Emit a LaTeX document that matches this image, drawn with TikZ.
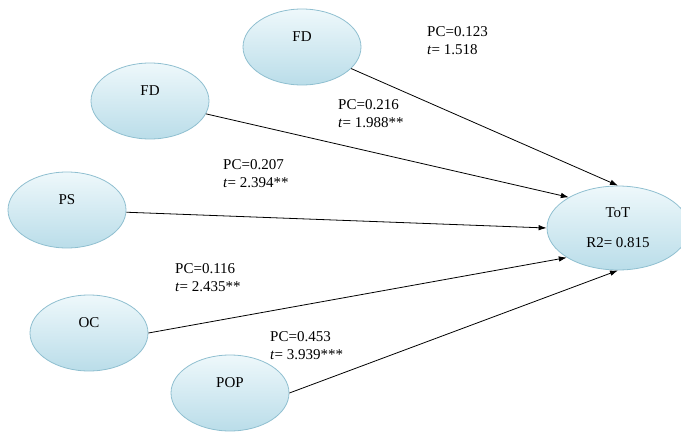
\documentclass[tikz,border=0pt]{standalone}
\usepackage{fontspec}
\setmainfont{Liberation Serif}
\usetikzlibrary{positioning,arrows.meta,shapes.geometric}
\definecolor{ovaltop}{HTML}{EEF8FB}
\definecolor{ovalbot}{HTML}{BADDE9}
\definecolor{ovalline}{HTML}{8FBFD0}
\tikzset{
  patharrow/.style={-{Latex[length=8pt,width=5.5pt]}, line width=0.8pt},
  construct/.style={ellipse, draw=ovalline, line width=0.8pt, top color=ovaltop, bottom color=ovalbot, minimum width=118pt, minimum height=76pt, inner sep=0pt, text height=10pt, text depth=22pt},
  outcome/.style={ellipse, draw=ovalline, line width=0.8pt, top color=ovaltop, bottom color=ovalbot, minimum width=142pt, minimum height=84pt, inner sep=0pt, align=center},
  coeflabel/.style={anchor=west, align=left, inner sep=0pt, font=\fontsize{15}{18}\selectfont}
}

\begin{document}
\begin{tikzpicture}[x=1pt, y=-1pt, >=Latex, every node/.style={font=\fontsize{15}{18}\selectfont}]
  \useasboundingbox (0,0) rectangle (681,434);
  \node[construct] (fdtop) at (302,47) {FD};
  \node[construct] (fdmid) at (150,101) {FD};
  \node[construct] (ps) at (67,210) {PS};
  \node[construct] (oc) at (89,333) {OC};
  \node[construct] (pop) at (230,393) {POP};
  \node[outcome] (tot) at (618,228) {ToT\\[12pt]R2= 0.815};
  \draw[patharrow] (fdtop) -- (tot.90);
  \draw[patharrow] (fdmid) -- (tot.148);
  \draw[patharrow] (ps) -- (tot.180);
  \draw[patharrow] (oc.east) -- (tot.210);
  \draw[patharrow] (pop.east) -- (tot.270);
  \node[coeflabel] (lfdtop) at (427,41) {PC=0.123\\\textit{t}= 1.518};
  \node[coeflabel] (lfdmid) at (338,113.5) {PC=0.216\\\textit{t}= 1.988**};
  \node[coeflabel] (lps) at (223,173.5) {PC=0.207\\\textit{t}= 2.394**};
  \node[coeflabel] (loc) at (175,277.5) {PC=0.116\\\textit{t}= 2.435**};
  \node[coeflabel] (lpop) at (270,346) {PC=0.453\\\textit{t}= 3.939***};
\end{tikzpicture}
\end{document}
